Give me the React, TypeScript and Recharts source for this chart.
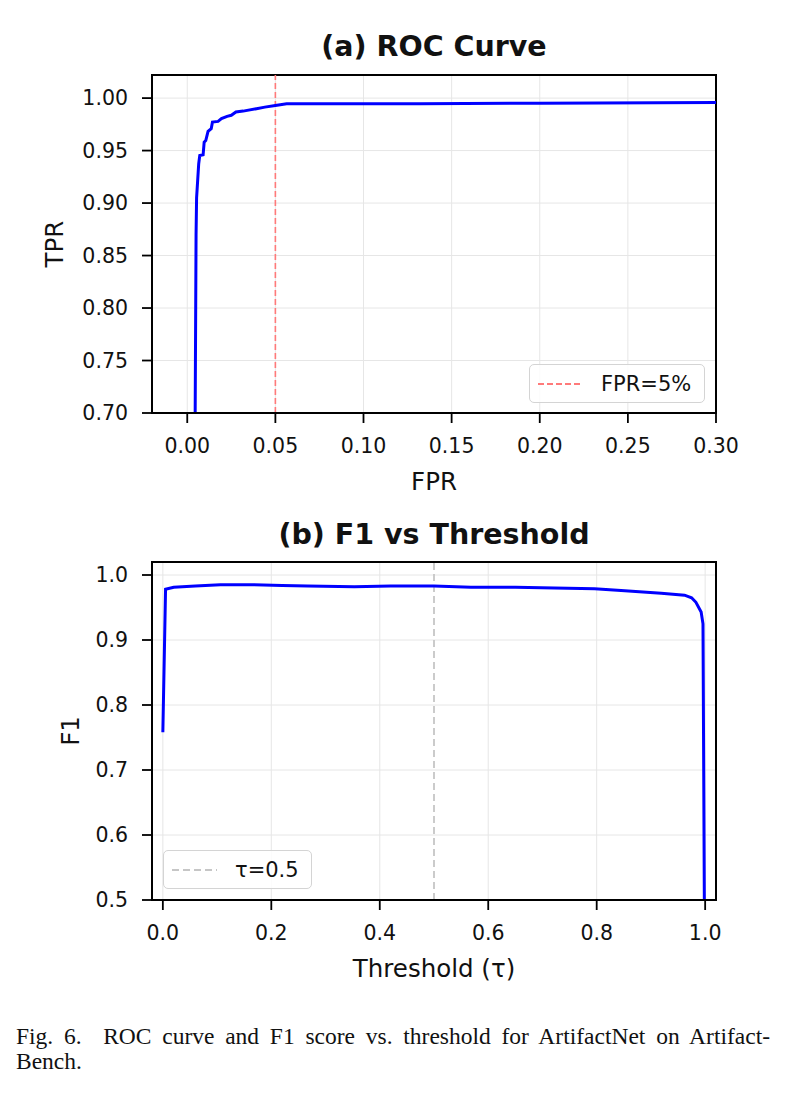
import React from 'react';
import {
  LineChart,
  Line,
  XAxis,
  YAxis,
  CartesianGrid,
  ReferenceLine,
  ReferenceArea,
  Legend,
} from 'recharts';

// (a) ROC curve
const rocFpr = [0.0045, 0.005, 0.0053, 0.0065, 0.0071, 0.009, 0.0096, 0.0105, 0.0118, 0.0136, 0.0143, 0.0175, 0.0194, 0.0226, 0.025, 0.0276, 0.0317, 0.0393, 0.044, 0.05, 0.0564, 0.132, 0.2, 0.3];
const rocTpr = [0.7, 0.87, 0.905, 0.9375, 0.9454, 0.946, 0.958, 0.9595, 0.9683, 0.9708, 0.9771, 0.9778, 0.9804, 0.9826, 0.9836, 0.9867, 0.9876, 0.9899, 0.9914, 0.993, 0.9947, 0.9947, 0.9951, 0.9957];
const rocXTicks = [0, 0.05, 0.1, 0.15, 0.2, 0.25, 0.3];
const rocYTicks = [0.7, 0.75, 0.8, 0.85, 0.9, 0.95, 1.0];

// (b) F1 vs threshold
const thresholds = [0, 0.005, 0.02, 0.06, 0.106, 0.162, 0.22, 0.267, 0.353, 0.42, 0.5, 0.568, 0.65, 0.722, 0.796, 0.845, 0.919, 0.962, 0.975, 0.983, 0.9926, 0.996, 0.9985];
const f1Scores = [0.758, 0.978, 0.981, 0.983, 0.985, 0.985, 0.984, 0.983, 0.982, 0.983, 0.983, 0.981, 0.981, 0.98, 0.979, 0.976, 0.972, 0.969, 0.965, 0.958, 0.943, 0.925, 0.5];
const f1XTicks = [0, 0.2, 0.4, 0.6, 0.8, 1.0];
const f1YTicks = [0.5, 0.6, 0.7, 0.8, 0.9, 1.0];

const rocData = rocFpr.map((fpr, i) => ({ fpr, tpr: rocTpr[i] }));
const f1Data = thresholds.map((t, i) => ({ t, f1: f1Scores[i] }));

const FONT = "'DejaVu Sans', sans-serif";
const tickStyle = { fontSize: 20.5, fill: '#111', fontFamily: FONT };
const axisLine = { stroke: '#000', strokeWidth: 2 };
const tickLine = { stroke: '#000', strokeWidth: 1.8 };

function LegendBox({ color, dash, label, width }: { color: string; dash: string; label: string; width: number }) {
  return (
    <div
      style={{
        width,
        height: 39,
        boxSizing: 'border-box',
        border: '1.5px solid #d4d4d4',
        borderRadius: 5,
        background: 'rgba(255,255,255,0.85)',
        display: 'flex',
        alignItems: 'center',
        paddingLeft: 8,
        fontFamily: FONT,
        fontSize: 21,
        color: '#111',
      }}
    >
      <svg width={45} height={10} style={{ marginRight: 18 }}>
        <line x1={0} y1={5} x2={45} y2={5} stroke={color} strokeWidth={1.8} strokeDasharray={dash} />
      </svg>
      <span>{label}</span>
    </div>
  );
}

const titleStyle: React.CSSProperties = {
  position: 'absolute',
  left: 152,
  width: 564,
  textAlign: 'center',
  fontFamily: FONT,
  fontWeight: 'bold',
  fontSize: 28.5,
  lineHeight: '34px',
  color: '#111',
};

export default function App() {
  return (
    <div style={{ position: 'absolute', left: 0, top: 0, width: 785, height: 1093, background: '#fff', fontFamily: FONT }}>
      <div style={{ ...titleStyle, top: 30 }}>(a) ROC Curve</div>
      <div style={{ position: 'absolute', left: 0, top: 0 }}>
        <LineChart width={785} height={500} data={rocData} margin={{ top: 75, right: 69, bottom: 47, left: 92 }}>
          <CartesianGrid stroke="#e6e6e6" strokeWidth={1} />
          <XAxis
            type="number"
            dataKey="fpr"
            domain={[-0.02, 0.3]}
            ticks={rocXTicks}
            allowDataOverflow
            tickFormatter={(v: number) => v.toFixed(2)}
            tick={tickStyle}
            axisLine={axisLine}
            tickLine={tickLine}
            tickSize={10}
            tickMargin={15}
            height={40}
            label={{ value: 'FPR', position: 'bottom', offset: 20, fontSize: 24.5, fill: '#111', fontFamily: FONT }}
          />
          <YAxis
            type="number"
            domain={[0.7, 1.022]}
            ticks={rocYTicks}
            allowDataOverflow
            tickFormatter={(v: number) => v.toFixed(2)}
            tick={tickStyle}
            axisLine={axisLine}
            tickLine={tickLine}
            tickSize={10}
            tickMargin={14}
            width={60}
            label={{ value: 'TPR', angle: -90, position: 'left', offset: 38, fontSize: 24.5, fill: '#111', fontFamily: FONT, style: { textAnchor: 'middle' } }}
          />
          <ReferenceLine x={0.05} stroke="#ff7a7a" strokeWidth={1.6} strokeDasharray="6 3" />
          <Line type="linear" dataKey="tpr" stroke="#0000ff" strokeWidth={3} dot={false} isAnimationActive={false} />
          <ReferenceArea x1={-0.02} x2={0.3} y1={0.7} y2={1.022} fill="none" stroke="#000" strokeWidth={2} />
          <Legend
            layout="horizontal"
            verticalAlign="middle"
            align="center"
            wrapperStyle={{ left: 529, top: 364, width: 176, height: 39 }}
            content={() => <LegendBox color="#ff7a7a" dash="6 3" label="FPR=5%" width={176} />}
          />
        </LineChart>
      </div>

      <div style={{ ...titleStyle, top: 518 }}>(b) F1 vs Threshold</div>
      <div style={{ position: 'absolute', left: 0, top: 500 }}>
        <LineChart width={785} height={500} data={f1Data} margin={{ top: 62, right: 69, bottom: 60, left: 92 }}>
          <CartesianGrid stroke="#e6e6e6" strokeWidth={1} />
          <XAxis
            type="number"
            dataKey="t"
            domain={[-0.02, 1.02]}
            ticks={f1XTicks}
            allowDataOverflow
            tickFormatter={(v: number) => v.toFixed(1)}
            tick={tickStyle}
            axisLine={axisLine}
            tickLine={tickLine}
            tickSize={10}
            tickMargin={15}
            height={40}
            label={{ value: 'Threshold (τ)', position: 'bottom', offset: 20, fontSize: 24.5, fill: '#111', fontFamily: FONT }}
          />
          <YAxis
            type="number"
            domain={[0.5, 1.02]}
            ticks={f1YTicks}
            allowDataOverflow
            tickFormatter={(v: number) => v.toFixed(1)}
            tick={tickStyle}
            axisLine={axisLine}
            tickLine={tickLine}
            tickSize={10}
            tickMargin={14}
            width={60}
            label={{ value: 'F1', angle: -90, position: 'left', offset: 22, fontSize: 24.5, fill: '#111', fontFamily: FONT, style: { textAnchor: 'middle' } }}
          />
          <ReferenceLine x={0.5} stroke="#c6c6c6" strokeWidth={1.8} strokeDasharray="7 4" />
          <Line type="linear" dataKey="f1" stroke="#0000ff" strokeWidth={3} dot={false} isAnimationActive={false} />
          <ReferenceArea x1={-0.02} x2={1.02} y1={0.5} y2={1.02} fill="none" stroke="#000" strokeWidth={2} />
          <Legend
            layout="horizontal"
            verticalAlign="middle"
            align="center"
            wrapperStyle={{ left: 163, top: 350, width: 149, height: 40 }}
            content={() => <LegendBox color="#c6c6c6" dash="7 4" label="τ=0.5" width={149} />}
          />
        </LineChart>
      </div>

      <div
        style={{
          position: 'absolute',
          left: 16,
          top: 1024,
          width: 754,
          fontFamily: "'Liberation Serif', 'Times New Roman', serif",
          fontSize: 23.5,
          lineHeight: '25px',
          color: '#111',
        }}
      >
        <div style={{ textAlign: 'justify', textAlignLast: 'justify' }}>
          Fig. 6.{'\u00a0'} ROC curve and F1 score vs. threshold for ArtifactNet on Artifact-
        </div>
        <div>Bench.</div>
      </div>
    </div>
  );
}
